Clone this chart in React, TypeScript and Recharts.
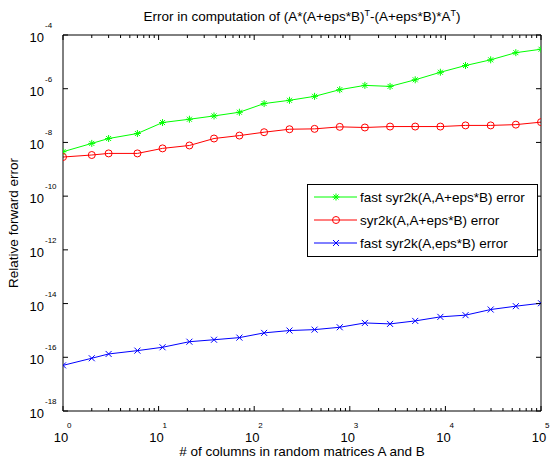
import React from 'react';
import { LineChart, Line, XAxis, YAxis, Legend } from 'recharts';

const columns = [1, 2, 3, 6, 11, 21, 38, 70, 127, 234, 428, 785, 1438, 2637, 4833, 8859, 16238, 29764, 54556, 100000];
const fastErr = [4.5e-9, 9.2e-9, 1.4e-8, 2.15e-8, 5.5e-8, 7.3e-8, 9.7e-8, 1.33e-7, 2.8e-7, 3.7e-7, 5.2e-7, 9.2e-7, 1.33e-6, 1.22e-6, 2.15e-6, 4.1e-6, 7.3e-6, 1.19e-5, 2.2e-5, 2.95e-5];
const plainErr = [2.86e-9, 3.4e-9, 3.9e-9, 3.9e-9, 6.0e-9, 7.7e-9, 1.4e-8, 1.8e-8, 2.4e-8, 3.1e-8, 3.2e-8, 3.8e-8, 3.6e-8, 3.9e-8, 3.9e-8, 3.9e-8, 4.3e-8, 4.3e-8, 4.6e-8, 5.7e-8];
const fastEpsErr = [5.0e-17, 9.2e-17, 1.33e-16, 1.77e-16, 2.36e-16, 3.8e-16, 4.5e-16, 5.4e-16, 8.1e-16, 9.9e-16, 1.07e-15, 1.31e-15, 1.9e-15, 1.75e-15, 2.26e-15, 3.2e-15, 3.7e-15, 6.0e-15, 8.0e-15, 1.03e-14];

const xMajor = [1, 10, 100, 1000, 10000, 100000];
const xMinor = [2, 3, 4, 5, 6, 7, 8, 9, 20, 30, 40, 50, 60, 70, 80, 90, 200, 300, 400, 500, 600, 700, 800, 900,
  2000, 3000, 4000, 5000, 6000, 7000, 8000, 9000, 20000, 30000, 40000, 50000, 60000, 70000, 80000, 90000];
const yMajor = [1e-18, 1e-16, 1e-14, 1e-12, 1e-10, 1e-8, 1e-6, 1e-4];

const legendLabels = ['fast syr2k(A,A+eps*B) error', 'syr2k(A,A+eps*B) error', 'fast syr2k(A,eps*B) error'];

const data = columns.map((n, i) => ({ n, fast: fastErr[i], plain: plainErr[i], fastEps: fastEpsErr[i] }));
const xTicks = [...xMajor, ...xMinor].sort((a, b) => a - b);

const FONT = 'Liberation Sans, Arial, sans-serif';
const TXT = 13.5;

const Star = ({ cx, cy, color }: any) => (
  <g stroke={color} strokeWidth={1}>
    <line x1={cx - 3.5} y1={cy} x2={cx + 3.5} y2={cy} />
    <line x1={cx} y1={cy - 3.5} x2={cx} y2={cy + 3.5} />
    <line x1={cx - 2.5} y1={cy - 2.5} x2={cx + 2.5} y2={cy + 2.5} />
    <line x1={cx - 2.5} y1={cy + 2.5} x2={cx + 2.5} y2={cy - 2.5} />
  </g>
);
const Ring = ({ cx, cy, color }: any) => <circle cx={cx} cy={cy} r={3.5} stroke={color} strokeWidth={1} fill="none" />;
const Cross = ({ cx, cy, color }: any) => (
  <g stroke={color} strokeWidth={1}>
    <line x1={cx - 3} y1={cy - 3} x2={cx + 3} y2={cy + 3} />
    <line x1={cx - 3} y1={cy + 3} x2={cx + 3} y2={cy - 3} />
  </g>
);

const markers = [Star, Ring, Cross];
const colors = ['#00ff00', '#ff0000', '#0000ff'];

const isMajor = (v: number) => xMajor.includes(v);

// tick props: x,y sit on the axis line (tickSize 0, tickMargin 0)
const XTickBottom = ({ x, y, payload }: any) => {
  const major = isMajor(payload.value);
  const e = Math.round(Math.log10(payload.value));
  return (
    <g fontFamily={FONT} fill="#000">
      <line x1={x} y1={y} x2={x} y2={y - (major ? 5 : 3)} stroke="#000" />
      {major && <text x={x - 2} y={y + 31} textAnchor="middle" fontSize={13}>10</text>}
      {major && <text x={x + 4} y={y + 17} fontSize={8}>{e}</text>}
    </g>
  );
};

const XTickTop = ({ x, y, payload }: any) => {
  const major = isMajor(payload.value);
  return <line x1={x} y1={y} x2={x} y2={y + (major ? 5 : 3)} stroke="#000" />;
};

const YTickLeft = ({ x, y, payload }: any) => {
  const e = Math.round(Math.log10(payload.value));
  return (
    <g fontFamily={FONT} fill="#000">
      <line x1={x} y1={y} x2={x + 5} y2={y} stroke="#000" />
      <text x={x - 19} y={y + 7} textAnchor="end" fontSize={13}>10</text>
      <text x={x - 18} y={y - 7} fontSize={8}>{e}</text>
    </g>
  );
};

const YTickRight = ({ x, y }: any) => <line x1={x} y1={y} x2={x - 5} y2={y} stroke="#000" />;

const LegendBox = () => (
  <svg width={231} height={73} style={{ display: 'block' }}>
    <rect x={0.5} y={0.5} width={230} height={72} fill="#fff" stroke="#000" />
    {legendLabels.map((label, i) => {
      const cy = 13 + i * 23;
      const M = markers[i];
      return (
        <g key={label}>
          <line x1={7} y1={cy} x2={50} y2={cy} stroke={colors[i]} strokeWidth={1} />
          <M cx={29} cy={cy} color={colors[i]} />
          <text x={53} y={cy + 4.5} fontSize={TXT} fontFamily={FONT} fill="#000">{label}</text>
        </g>
      );
    })}
  </svg>
);

export default function App() {
  return (
    <div style={{ position: 'absolute', left: 0, top: 0, width: 553, height: 462, background: '#fff' }}>
      <LineChart width={553} height={462} data={data} margin={{ top: 34, right: 11, bottom: 50, left: 62 }}>
        <XAxis xAxisId="x" dataKey="n" type="number" scale="log" domain={[1, 100000]} allowDataOverflow
          ticks={xTicks} interval={0} height={1} tickSize={0} tickMargin={0} tickLine={false}
          tick={<XTickBottom />} stroke="#000" />
        <XAxis xAxisId="xt" orientation="top" dataKey="n" type="number" scale="log" domain={[1, 100000]} allowDataOverflow
          ticks={xTicks} interval={0} height={1} tickSize={0} tickMargin={0} tickLine={false}
          tick={<XTickTop />} stroke="#000" />
        <YAxis yAxisId="y" type="number" scale="log" domain={[1e-18, 1e-4]} allowDataOverflow
          ticks={yMajor} interval={0} width={1} tickSize={0} tickMargin={0} tickLine={false}
          tick={<YTickLeft />} stroke="#000" />
        <YAxis yAxisId="yr" orientation="right" type="number" scale="log" domain={[1e-18, 1e-4]} allowDataOverflow
          ticks={yMajor} interval={0} width={1} tickSize={0} tickMargin={0} tickLine={false}
          tick={<YTickRight />} stroke="#000" />
        <Line xAxisId="x" yAxisId="y" dataKey="fast" stroke={colors[0]} strokeWidth={1} isAnimationActive={false}
          dot={(p: any) => <Star key={p.index} cx={p.cx} cy={p.cy} color={colors[0]} />} />
        <Line xAxisId="x" yAxisId="y" dataKey="plain" stroke={colors[1]} strokeWidth={1} isAnimationActive={false}
          dot={(p: any) => <Ring key={p.index} cx={p.cx} cy={p.cy} color={colors[1]} />} />
        <Line xAxisId="x" yAxisId="y" dataKey="fastEps" stroke={colors[2]} strokeWidth={1} isAnimationActive={false}
          dot={(p: any) => <Cross key={p.index} cx={p.cx} cy={p.cy} color={colors[2]} />} />
        <Legend layout="vertical" align="center" verticalAlign="middle" content={<LegendBox />}
          wrapperStyle={{ left: 307, top: 184, width: 231, height: 73 }} />
      </LineChart>
      <svg width={553} height={462} style={{ position: 'absolute', left: 0, top: 0, pointerEvents: 'none' }}
        fontFamily={FONT} fill="#000">
        <text x={302} y={21} textAnchor="middle" fontSize={TXT}>
          Error in computation of (A*(A+eps*B)<tspan dy={-5} fontSize={9}>T</tspan>
          <tspan dy={5}>-(A+eps*B)*A</tspan><tspan dy={-5} fontSize={9}>T</tspan><tspan dy={5}>)</tspan>
        </text>
        <text x={302} y={456} textAnchor="middle" fontSize={TXT}># of columns in random matrices A and B</text>
        <text transform="translate(18,223) rotate(-90)" textAnchor="middle" fontSize={TXT}>Relative forward error</text>
      </svg>
    </div>
  );
}
